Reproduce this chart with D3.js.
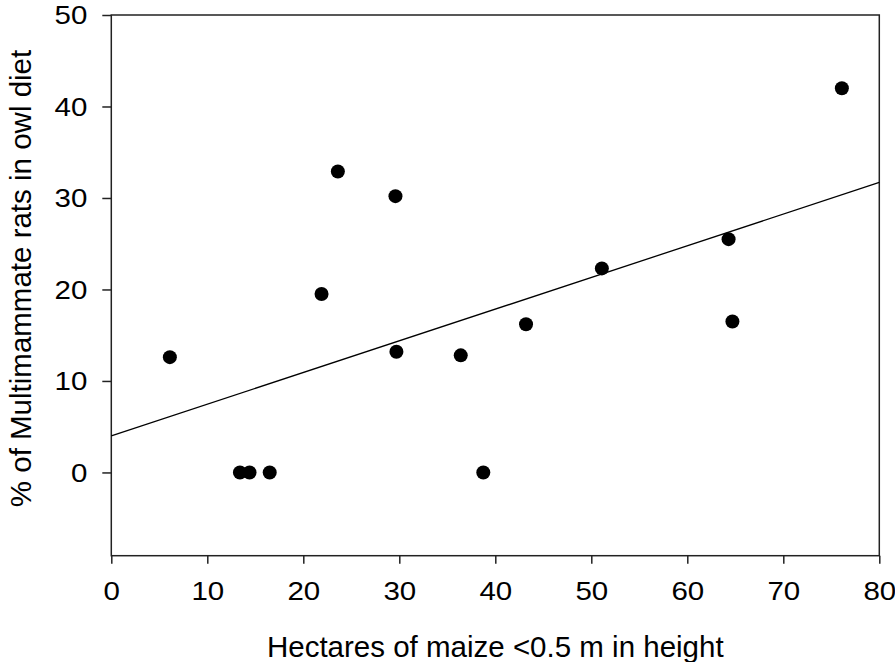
<!DOCTYPE html>
<html>
<head>
<meta charset="utf-8">
<script src="https://cdn.jsdelivr.net/npm/d3@7"></script>
<style>
  body { margin: 0; background: #fff; }
  svg { display: block; font-family: "Liberation Sans", Arial, sans-serif; }
  .axis path, .axis line { stroke: #222; stroke-width: 1.5; }
  .axis text { fill: #000; font-size: 25px; }
</style>
</head>
<body>
<div id="chart"></div>
<script>
// ---- data ----
const maizeHa = [6.1, 13.4, 14.4, 16.5, 21.9, 23.6, 29.6, 29.7, 36.4, 38.75, 43.2, 51.1, 64.3, 64.7, 76.1];
const ratPct  = [12.6, 0, 0, 0, 19.5, 32.9, 30.2, 13.2, 12.8, 0, 16.2, 22.3, 25.5, 16.5, 42.0];
const fitLine = [[0, 4.0], [80, 31.7]];
const xTicks = [0, 10, 20, 30, 40, 50, 60, 70, 80];
const yTicks = [0, 10, 20, 30, 40, 50];

const width = 895, height = 662;
const margin = { top: 15, right: 15.7, bottom: 106.3, left: 111.3 };
const innerW = width - margin.left - margin.right;
const innerH = height - margin.top - margin.bottom;
const stretch = 1.18; // tick digits look wider than tall

const svg = d3.select('#chart').append('svg')
  .attr('width', width)
  .attr('height', height);

const g = svg.append('g')
  .attr('transform', `translate(${margin.left},${margin.top})`);

const x = d3.scaleLinear().domain([0, 80]).range([0, innerW]);
const y = d3.scaleLinear().domain([-9.1, 50]).range([innerH, 0]);

// frame
g.append('rect')
  .attr('width', innerW)
  .attr('height', innerH)
  .attr('fill', 'none')
  .attr('stroke', '#222')
  .attr('stroke-width', 1.5);

// axes
const xAxis = g.append('g')
  .attr('class', 'axis')
  .attr('transform', `translate(0,${innerH})`)
  .call(d3.axisBottom(x).tickValues(xTicks).tickSize(8).tickSizeOuter(0));
xAxis.select('.domain').remove();
xAxis.selectAll('text')
  .attr('y', 0)
  .attr('dy', 0)
  .attr('transform', `translate(0,44.5) scale(${stretch},1)`);

const yAxis = g.append('g')
  .attr('class', 'axis')
  .call(d3.axisLeft(y).tickValues(yTicks).tickSize(9).tickSizeOuter(0));
yAxis.select('.domain').remove();
yAxis.selectAll('text')
  .attr('x', 0)
  .attr('dy', '0.35em')
  .attr('transform', `translate(-24,0) scale(${stretch},1)`);

// regression line
const line = d3.line().x(d => x(d[0])).y(d => y(d[1]));
g.append('path')
  .datum(fitLine)
  .attr('d', line)
  .attr('fill', 'none')
  .attr('stroke', '#000')
  .attr('stroke-width', 1.3);

// points
const points = maizeHa.map((v, i) => ({ x: v, y: ratPct[i] }));
g.selectAll('.dot')
  .data(points)
  .enter()
  .append('circle')
  .attr('class', 'dot')
  .attr('cx', d => x(d.x))
  .attr('cy', d => y(d.y))
  .attr('r', 7)
  .attr('fill', '#000');

// axis labels
svg.append('text')
  .attr('x', margin.left + innerW / 2)
  .attr('y', 657)
  .attr('text-anchor', 'middle')
  .attr('font-size', 29.5)
  .text('Hectares of maize <0.5 m in height');

svg.append('text')
  .attr('transform', 'translate(31,278.5) rotate(-90)')
  .attr('text-anchor', 'middle')
  .attr('font-size', 29.5)
  .text('% of Multimammate rats in owl diet');
</script>
</body>
</html>
